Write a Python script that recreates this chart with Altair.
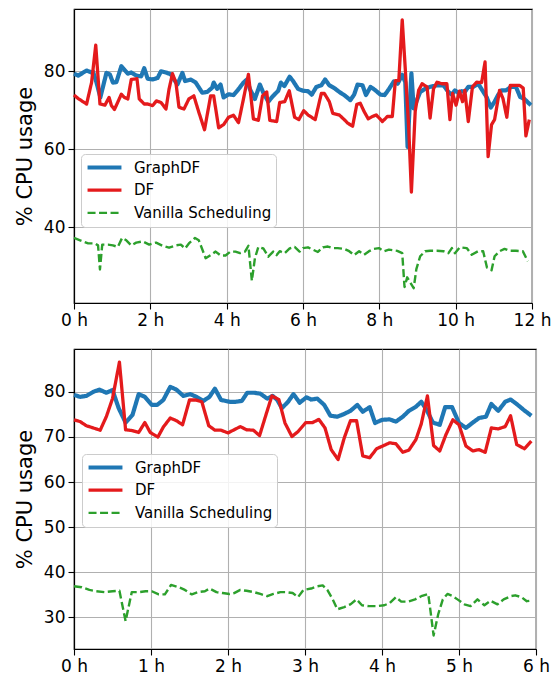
import altair as alt
import pandas as pd

SERIES = ["GraphDF", "DF", "Vanilla Scheduling"]
COLORS = ["#1f77b4", "#e41a1c", "#2ca02c"]
WIDTHS = [4.2, 2.4, 2.4]
DASHES = [[1, 0], [1, 0], [8, 3.5]]

# ---------------- top panel (0-12 h) ----------------
top_graphdf_h = [0.00, 0.11, 0.33, 0.46, 0.50, 0.59, 0.69, 0.85, 0.94,
                 1.02, 1.11, 1.24, 1.32, 1.41, 1.50, 1.63, 1.76, 1.84, 1.93,
                 2.06, 2.19, 2.28, 2.41, 2.54, 2.62, 2.71, 2.84, 2.91,
                 3.06, 3.19, 3.36, 3.49, 3.62, 3.66, 3.75, 3.84, 3.92,
                 4.05, 4.18, 4.31, 4.44, 4.53, 4.61, 4.74, 4.87, 4.96,
                 5.09, 5.22, 5.35, 5.42, 5.51, 5.65, 5.74, 5.87,
                 6.00, 6.13, 6.23, 6.35, 6.48, 6.58, 6.69, 6.82, 6.95,
                 7.08, 7.24, 7.34, 7.43, 7.56, 7.65, 7.77, 7.90,
                 8.03, 8.14, 8.25, 8.38, 8.48, 8.60, 8.68, 8.74, 8.84, 8.90, 8.97,
                 9.07, 9.20, 9.33, 9.51, 9.68, 9.81, 9.90, 9.98,
                 10.07, 10.16, 10.24, 10.33, 10.46, 10.59, 10.68, 10.81, 10.92,
                 11.02, 11.11, 11.20, 11.32, 11.45, 11.58, 11.69, 11.80, 11.97]
top_graphdf = [79.4, 78.9, 80.2, 79.7, 79.9, 77.1, 73.3, 79.6, 79.2,
               77.1, 77.2, 81.3, 80.4, 79.4, 79.7, 78.9, 78.7, 80.8, 78.1,
               77.9, 78.3, 80.0, 79.7, 79.2, 77.9, 76.6, 79.6, 77.5,
               77.9, 77.1, 74.5, 74.7, 75.8, 77.1, 75.5, 76.6, 73.3,
               74.1, 73.9, 75.4, 77.1, 77.9, 75.4, 72.9, 76.6, 74.5,
               72.2, 73.7, 75.0, 77.1, 76.2, 78.6, 77.5, 75.5,
               75.0, 74.9, 74.0, 76.0, 76.4, 77.9, 76.4, 75.7, 74.7,
               73.9, 72.6, 74.0, 76.6, 76.4, 73.9, 76.0, 75.1,
               74.0, 73.9, 75.4, 77.4, 76.8, 79.1, 77.2, 60.6, 79.5, 70.5, 72.2,
               74.7, 75.5, 76.0, 76.4, 76.4, 74.7, 74.0, 75.1,
               74.5, 74.9, 74.7, 76.0, 76.0, 76.8, 75.4, 73.4, 70.7,
               72.2, 73.9, 75.1, 75.1, 76.0, 76.0, 73.4, 72.9, 71.3]

top_df_h = [0.00, 0.11, 0.33, 0.46, 0.57, 0.68, 0.81, 0.92, 0.98,
            1.06, 1.24, 1.32, 1.41, 1.50, 1.65, 1.71, 1.84, 1.93,
            2.06, 2.16, 2.28, 2.41, 2.49, 2.58, 2.67, 2.75, 2.88,
            3.01, 3.14, 3.27, 3.42, 3.58, 3.66, 3.79, 3.92,
            4.05, 4.18, 4.31, 4.44, 4.57, 4.70, 4.83, 4.94,
            5.05, 5.13, 5.31, 5.39, 5.52, 5.64, 5.78, 5.89,
            6.02, 6.13, 6.32, 6.48, 6.56, 6.69, 6.78, 6.95,
            7.08, 7.17, 7.30, 7.41, 7.50, 7.60, 7.71, 7.82, 7.92,
            8.08, 8.21, 8.34, 8.42, 8.51, 8.60, 8.68, 8.77, 8.84, 8.94,
            9.03, 9.12, 9.25, 9.33, 9.42, 9.51, 9.64, 9.77, 9.85, 9.92,
            10.01, 10.10, 10.18, 10.24, 10.33, 10.44, 10.55, 10.68, 10.77, 10.85, 10.94,
            11.02, 11.15, 11.24, 11.34, 11.43, 11.54, 11.67, 11.77, 11.84, 11.93]
top_df = [73.9, 73.0, 71.6, 77.1, 86.7, 71.6, 71.3, 73.3, 71.2,
          70.2, 74.1, 73.3, 72.9, 77.9, 78.1, 72.9, 71.6, 71.6,
          71.2, 72.4, 72.0, 70.3, 75.4, 79.4, 77.1, 70.8, 70.3,
          72.9, 73.7, 69.5, 65.0, 73.7, 73.7, 65.5, 66.3,
          68.2, 68.7, 66.8, 72.9, 79.2, 67.8, 67.4, 73.7,
          74.7, 67.4, 67.1, 72.0, 72.2, 75.0, 68.2, 67.6,
          69.9, 68.8, 67.6, 74.3, 74.3, 72.2, 69.2, 68.8,
          67.6, 66.7, 65.9, 71.5, 71.8, 69.7, 67.8, 68.4, 68.8,
          67.1, 68.4, 68.4, 77.6, 77.6, 93.2, 80.6, 65.5, 49.0, 69.7,
          75.1, 76.8, 76.0, 68.0, 75.5, 77.2, 76.8, 76.8, 67.6, 74.3,
          71.3, 74.9, 72.2, 75.1, 67.1, 76.0, 77.2, 77.1, 82.4, 58.1, 66.3,
          67.6, 75.1, 73.0, 68.2, 76.4, 76.4, 76.4, 75.7, 63.4, 67.6]

top_vanilla_h = [0.00, 0.16, 0.37, 0.55, 0.63, 0.68, 0.74, 0.89,
                 1.02, 1.15, 1.26, 1.37, 1.50, 1.63, 1.80, 1.97,
                 2.15, 2.32, 2.49, 2.67, 2.80, 2.91,
                 3.01, 3.17, 3.27, 3.45, 3.58, 3.71, 3.84, 3.97,
                 4.10, 4.23, 4.35, 4.48, 4.57, 4.66, 4.74, 4.83, 4.96,
                 5.09, 5.22, 5.31, 5.39, 5.52, 5.65, 5.78, 5.91,
                 6.00, 6.13, 6.26, 6.39, 6.52, 6.65, 6.78, 6.91,
                 7.08, 7.21, 7.34, 7.47, 7.60, 7.73, 7.86, 7.99,
                 8.12, 8.25, 8.47, 8.60, 8.66, 8.73, 8.81, 8.90, 8.97,
                 9.07, 9.20, 9.33, 9.51, 9.68, 9.81, 9.90, 9.98,
                 10.11, 10.29, 10.42, 10.59, 10.72, 10.82, 10.94,
                 11.02, 11.15, 11.28, 11.41, 11.58, 11.76, 11.89]
top_vanilla = [37.2, 36.6, 35.8, 35.8, 35.3, 29.1, 35.5, 35.5,
               35.3, 34.9, 37.2, 36.6, 35.3, 36.0, 36.3, 35.5,
               36.0, 35.2, 34.7, 35.3, 35.5, 34.5,
               35.8, 37.2, 36.6, 32.0, 32.8, 33.7, 32.7, 32.7,
               33.7, 33.7, 33.3, 33.7, 35.2, 26.2, 32.0, 34.9, 34.5,
               32.4, 33.7, 32.8, 33.8, 33.3, 34.5, 34.9, 33.7,
               34.6, 34.8, 34.2, 33.6, 34.8, 35.0, 34.6, 34.6,
               34.4, 33.8, 32.8, 33.8, 32.9, 33.8, 34.4, 34.6,
               33.8, 34.2, 33.9, 33.3, 24.6, 27.1, 25.8, 24.3, 29.2,
               32.5, 33.8, 33.9, 33.9, 33.8, 33.3, 34.6, 33.3,
               34.8, 34.6, 32.9, 33.8, 33.8, 29.6, 28.9,
               32.5, 33.8, 34.4, 33.9, 33.9, 33.8, 31.2]

# ---------------- bottom panel (0-6 h) ----------------
bot_graphdf_h = [0.00, 0.08, 0.16, 0.25, 0.33, 0.42, 0.50, 0.58, 0.67, 0.76, 0.84, 0.92,
                 1.01, 1.08, 1.16, 1.25, 1.33, 1.42, 1.51, 1.59, 1.68, 1.76, 1.83, 1.91,
                 2.02, 2.10, 2.18, 2.25, 2.34, 2.42, 2.51, 2.58, 2.64, 2.70, 2.78, 2.85, 2.93,
                 3.02, 3.08, 3.16, 3.25, 3.33, 3.42, 3.51, 3.59, 3.68, 3.75, 3.84, 3.91,
                 4.00, 4.10, 4.18, 4.27, 4.35, 4.44, 4.51, 4.58, 4.66, 4.75, 4.82, 4.91,
                 5.00, 5.09, 5.18, 5.26, 5.35, 5.42, 5.51, 5.60, 5.67, 5.75, 5.84, 5.94]
bot_graphdf = [79.3, 78.9, 79.1, 80.0, 80.5, 79.8, 80.4, 76.4, 73.2, 74.9, 79.5, 78.9,
               77.1, 77.1, 78.2, 81.1, 80.5, 79.1, 79.5, 78.9, 78.0, 78.9, 80.7, 78.2,
               77.8, 77.8, 78.0, 79.8, 79.8, 79.6, 78.5, 79.1, 78.2, 76.4, 77.8, 79.5, 77.6,
               78.8, 78.3, 78.5, 77.1, 74.7, 74.5, 75.1, 75.8, 77.1, 75.6, 76.6, 73.1,
               73.8, 73.9, 73.4, 74.5, 75.8, 76.7, 77.8, 76.0, 73.2, 72.7, 76.6, 76.6,
               73.1, 72.0, 73.2, 74.2, 74.5, 77.3, 75.8, 77.8, 78.3, 77.3, 76.0, 74.7]

bot_df_h = [0.00, 0.08, 0.16, 0.25, 0.34, 0.42, 0.50, 0.59, 0.67, 0.76, 0.84, 0.92, 0.99,
            1.09, 1.16, 1.25, 1.33, 1.41, 1.50, 1.58, 1.66, 1.75, 1.83, 1.91,
            2.00, 2.08, 2.16, 2.24, 2.33, 2.41, 2.50, 2.57, 2.66, 2.74, 2.83, 2.91,
            3.01, 3.10, 3.18, 3.26, 3.34, 3.43, 3.51, 3.59, 3.67, 3.75, 3.84, 3.93,
            4.01, 4.10, 4.18, 4.27, 4.35, 4.44, 4.51, 4.59, 4.67, 4.75, 4.83, 4.92,
            5.00, 5.09, 5.18, 5.26, 5.34, 5.42, 5.51, 5.60, 5.67, 5.75, 5.85, 5.94]
bot_df = [73.8, 73.4, 72.5, 72.0, 71.5, 74.5, 78.5, 86.6, 71.6, 71.4, 71.0, 73.2, 71.0,
          70.0, 72.2, 74.2, 73.6, 72.7, 78.2, 78.2, 77.8, 72.5, 71.5, 71.5,
          70.9, 71.6, 72.3, 71.6, 71.5, 70.3, 75.3, 79.1, 78.3, 73.1, 70.1, 71.2,
          73.2, 73.2, 73.9, 72.0, 67.2, 65.0, 69.8, 73.6, 73.6, 65.8, 65.4, 67.4,
          68.0, 68.7, 68.5, 66.6, 67.1, 69.4, 72.9, 79.1, 68.1, 66.9, 70.5, 73.8,
          72.7, 68.0, 66.9, 67.2, 66.6, 72.0, 71.8, 72.3, 74.7, 68.3, 67.4, 69.1]

bot_vanilla_h = [0.00, 0.10, 0.20, 0.29, 0.40, 0.50, 0.59, 0.67, 0.75, 0.84, 0.93,
                 1.01, 1.10, 1.18, 1.26, 1.36, 1.44, 1.53, 1.61, 1.70, 1.76, 1.85, 1.93,
                 2.02, 2.08, 2.16, 2.24, 2.34, 2.42, 2.51, 2.59, 2.68, 2.76, 2.84, 2.91, 2.98,
                 3.08, 3.16, 3.23, 3.29, 3.36, 3.42, 3.51, 3.59, 3.67, 3.74, 3.83, 3.93,
                 4.03, 4.10, 4.18, 4.25, 4.34, 4.43, 4.51, 4.60, 4.63, 4.67, 4.73, 4.79, 4.85, 4.92, 4.98,
                 5.07, 5.15, 5.24, 5.33, 5.41, 5.50, 5.58, 5.67, 5.73, 5.81, 5.88, 5.93]
bot_vanilla = [36.9, 36.7, 36.1, 35.8, 35.6, 35.8, 35.9, 29.2, 35.6, 35.6, 35.8,
               35.8, 35.1, 35.1, 37.2, 36.7, 36.1, 35.1, 35.6, 35.8, 36.4, 35.6, 35.4,
               35.2, 35.4, 36.1, 35.9, 35.6, 35.2, 34.7, 35.2, 35.6, 35.6, 35.4, 34.5, 36.1,
               36.4, 36.9, 37.1, 36.1, 34.0, 31.8, 32.3, 32.9, 34.0, 32.7, 32.5, 32.5,
               32.7, 33.2, 34.5, 33.5, 33.5, 34.0, 34.7, 35.2, 31.4, 26.0, 30.7, 34.0, 35.2, 34.7, 34.0,
               32.9, 32.5, 34.0, 32.7, 33.7, 32.9, 34.0, 34.7, 34.9, 34.5, 33.6, 33.7]

top_xticks = [0, 2, 4, 6, 8, 10, 12]
top_yticks = [40, 60, 80]
bot_xticks = [0, 1, 2, 3, 4, 5, 6]
bot_yticks = [30, 40, 50, 60, 70, 80]


def frame(parts):
    rows = []
    for name, hs, vs in parts:
        for h, v in zip(hs, vs):
            rows.append({"hour": h, "cpu": v, "series": name})
    return pd.DataFrame(rows)


top_data = frame([("GraphDF", top_graphdf_h, top_graphdf),
                  ("DF", top_df_h, top_df),
                  ("Vanilla Scheduling", top_vanilla_h, top_vanilla)])
bot_data = frame([("GraphDF", bot_graphdf_h, bot_graphdf),
                  ("DF", bot_df_h, bot_df),
                  ("Vanilla Scheduling", bot_vanilla_h, bot_vanilla)])

FONT = "DejaVu Sans"


def panel(data, xdom, xticks, ydom, yticks, w, h, lx, ly):
    legend = alt.Legend(title=None, orient="none", legendX=lx, legendY=ly,
                        symbolType="stroke", symbolSize=1150, clipHeight=19,
                        labelFontSize=15, labelFont=FONT, labelColor="black",
                        fillColor="rgba(255,255,255,0.85)", strokeColor="#cccccc",
                        cornerRadius=4, padding=4, rowPadding=3.7, labelOffset=10)
    return alt.Chart(data).mark_line(strokeJoin="round").encode(
        x=alt.X("hour:Q", scale=alt.Scale(domain=xdom, nice=False, zero=False),
                axis=alt.Axis(values=xticks, title=None, labelFlush=False,
                              labelExpr="datum.value + ' h'")),
        y=alt.Y("cpu:Q", scale=alt.Scale(domain=ydom, nice=False, zero=False),
                axis=alt.Axis(values=yticks, title="% CPU usage", labelFlush=False)),
        color=alt.Color("series:N", scale=alt.Scale(domain=SERIES, range=COLORS),
                        sort=SERIES, legend=legend),
        strokeWidth=alt.StrokeWidth("series:N", scale=alt.Scale(domain=SERIES, range=WIDTHS),
                                    sort=SERIES, legend=legend),
        strokeDash=alt.StrokeDash("series:N", scale=alt.Scale(domain=SERIES, range=DASHES),
                                  sort=SERIES, legend=legend),
        detail="series:N",
    ).properties(width=w, height=h)


top = panel(top_data, [0, 12], top_xticks, [20.5, 96], top_yticks, 458, 294, 7, 145)
bot = panel(bot_data, [0, 6], bot_xticks, [23, 89.5], bot_yticks, 462, 300, 8, 105)

chart = alt.vconcat(top, bot, spacing=19).resolve_scale(
    color="independent", strokeWidth="independent", strokeDash="independent"
).resolve_legend(
    color="independent", strokeWidth="independent", strokeDash="independent"
).properties(
    padding={"left": 5, "top": 0, "right": 0, "bottom": 0},
    background="white",
).configure_view(stroke="black", strokeWidth=1.2).configure_axis(
    grid=True, gridColor="#b0b0b0", gridWidth=1.1,
    domainColor="black", domainWidth=1.2,
    tickColor="black", tickSize=6, tickWidth=1.1,
    labelFont=FONT, labelFontSize=17, labelColor="black", labelPadding=3,
    titleFont=FONT, titleFontSize=21, titleFontWeight="normal", titleColor="black",
    titlePadding=8,
)

chart.save("out.html", embed_options={"renderer": "svg", "actions": False})
